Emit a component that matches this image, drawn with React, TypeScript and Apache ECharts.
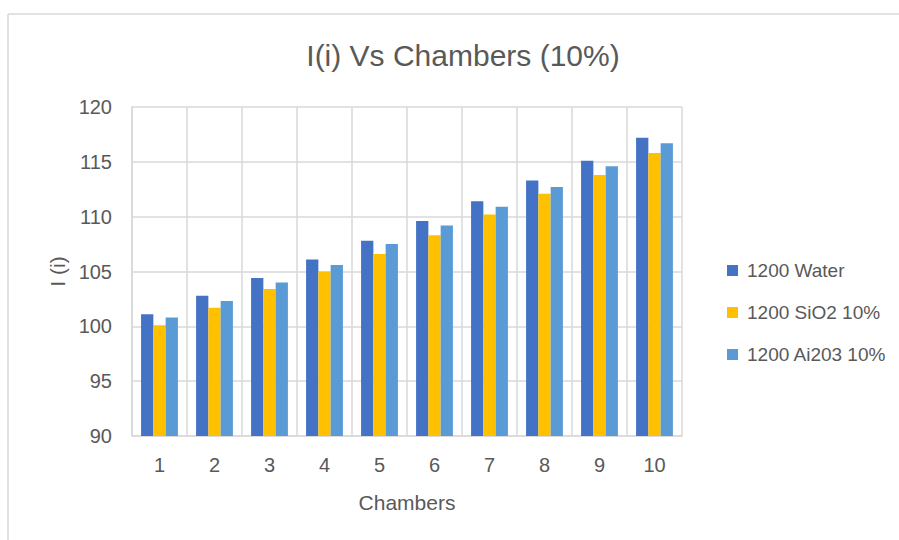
import React, { useEffect, useRef } from "react";
import * as echarts from "echarts";

const chambers = ["1", "2", "3", "4", "5", "6", "7", "8", "9", "10"];
const seriesNames = ["1200 Water", "1200 SiO2 10%", "1200 Ai203 10%"];
const waterValues = [101.1, 102.8, 104.4, 106.1, 107.8, 109.6, 111.4, 113.3, 115.1, 117.2];
const sio2Values = [100.1, 101.7, 103.4, 105.0, 106.6, 108.3, 110.2, 112.1, 113.8, 115.8];
const al2o3Values = [100.8, 102.3, 104.0, 105.6, 107.5, 109.2, 110.9, 112.7, 114.6, 116.7];
const colors = ["#4472C4", "#FFC000", "#5B9BD5"];

const FONT = "Liberation Sans";
const TEXT = "#595959";
const GRID = "#D9D9D9";

export default function App() {
  const ref = useRef<HTMLDivElement>(null);
  useEffect(() => {
    if (!ref.current) return;
    const chart = echarts.init(ref.current, null, { renderer: "svg" });
    const values = [waterValues, sio2Values, al2o3Values];
    chart.setOption({
      animation: false,
      backgroundColor: "#ffffff",
      title: {
        text: "I(i) Vs Chambers (10%)",
        left: 458,
        top: 35,
        textAlign: "center",
        textStyle: { fontFamily: FONT, fontSize: 30, fontWeight: "normal", color: TEXT },
      },
      graphic: [
        { type: "line", shape: { x1: 8, y1: 14, x2: 899, y2: 14 }, style: { stroke: GRID, lineWidth: 1.5 } },
        { type: "line", shape: { x1: 8, y1: 14, x2: 8, y2: 540 }, style: { stroke: GRID, lineWidth: 1.5 } },
      ],
      legend: {
        orient: "vertical",
        left: 722,
        top: 256,
        itemWidth: 11,
        itemHeight: 11,
        itemGap: 23,
        icon: "rect",
        textStyle: { fontFamily: FONT, fontSize: 19, color: TEXT, padding: [0, 0, 0, 4] },
        data: seriesNames,
      },
      grid: { left: 132, top: 107, right: 217, bottom: 104, containLabel: false },
      xAxis: {
        type: "category",
        data: chambers,
        name: "Chambers",
        nameLocation: "middle",
        nameGap: 56,
        nameTextStyle: { fontFamily: FONT, fontSize: 21, color: TEXT, verticalAlign: "top" },
        axisLine: { show: true, lineStyle: { color: GRID, width: 1.5 } },
        axisTick: { show: false },
        axisLabel: { fontFamily: FONT, fontSize: 20, color: TEXT, margin: 19 },
        splitLine: { show: true, lineStyle: { color: GRID, width: 1.5 } },
      },
      yAxis: {
        type: "value",
        min: 90,
        max: 120,
        interval: 5,
        name: "I (i)",
        nameLocation: "middle",
        nameGap: 64,
        nameTextStyle: { fontFamily: FONT, fontSize: 21, color: TEXT },
        axisLine: { show: true, lineStyle: { color: GRID, width: 1.5 } },
        axisTick: { show: false },
        axisLabel: { fontFamily: FONT, fontSize: 20, color: TEXT, margin: 20 },
        splitLine: { show: true, lineStyle: { color: GRID, width: 1.5 } },
      },
      series: seriesNames.map((name, i) => ({
        name,
        type: "bar",
        data: values[i],
        barGap: "0%",
        barCategoryGap: "33%",
        itemStyle: { color: colors[i] },
      })),
    });
    return () => chart.dispose();
  }, []);
  return (
    <div
      ref={ref}
      style={{ position: "fixed", left: 0, top: 0, width: 899, height: 540 }}
    />
  );
}
